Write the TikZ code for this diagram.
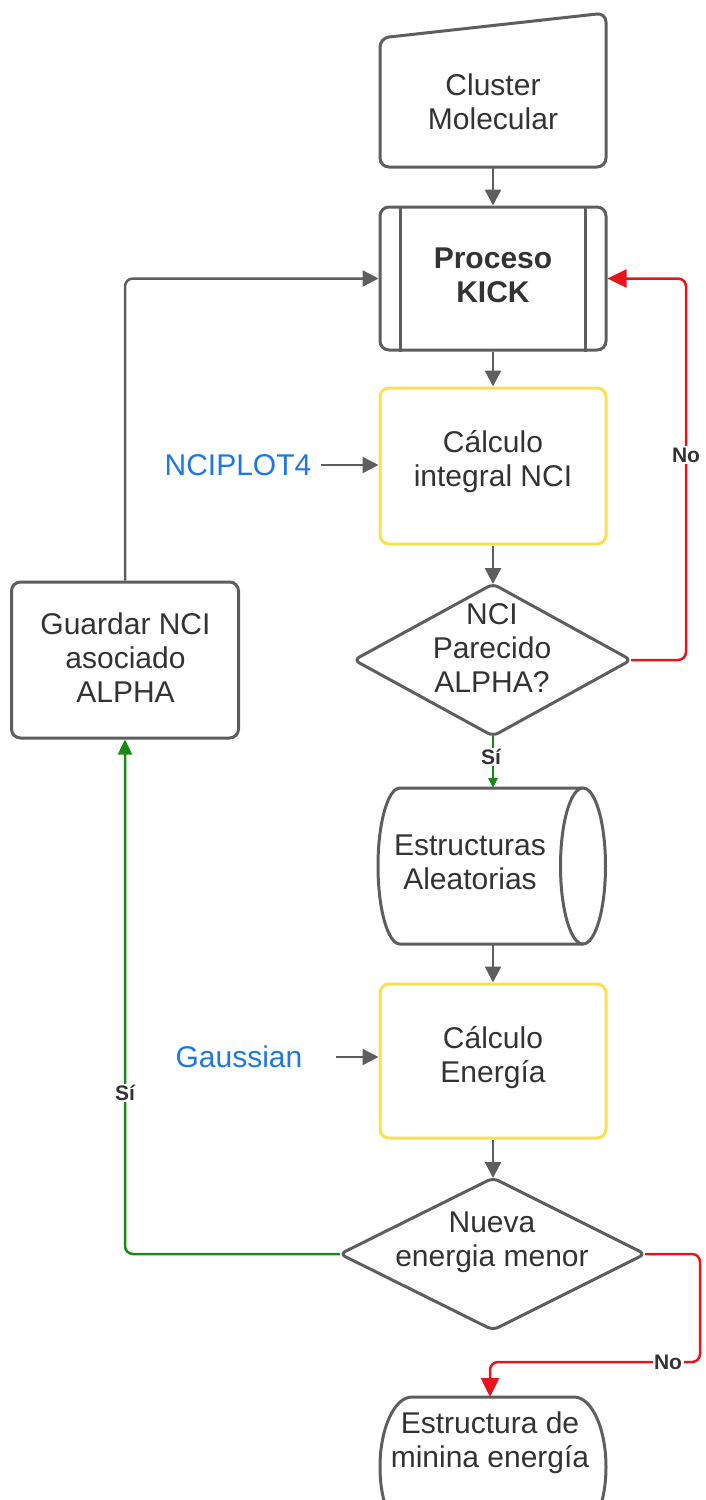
\documentclass[tikz,border=0pt]{standalone}
\usepackage{fontspec}
\setmainfont{Liberation Sans}
\usetikzlibrary{arrows.meta}
\definecolor{ln}{HTML}{5E5E5E}
\definecolor{tx}{HTML}{333333}
\definecolor{yl}{HTML}{F8E04E}
\definecolor{rd}{HTML}{E8141B}
\definecolor{gn}{HTML}{168C16}
\definecolor{bl}{HTML}{1F78E0}
\begin{document}
\begin{tikzpicture}[x=1pt,y=-1pt,
  shp/.style={draw=ln,line width=3pt,fill=white},
  rbox/.style={draw=ln,line width=3pt,rounded corners=9pt,inner sep=0pt},
  ybox/.style={draw=yl,line width=3pt,rounded corners=9pt,inner sep=0pt},
  txt/.style={text=tx,align=center,font=\fontsize{30}{34}\selectfont,inner sep=0pt},
  btxt/.style={text=tx,align=center,font=\bfseries\fontsize{30}{34}\selectfont,inner sep=0pt},
  btx/.style={text=bl,font=\fontsize{30}{34}\selectfont,inner sep=0pt},
  lbl/.style={text=tx,font=\bfseries\fontsize{21}{24}\selectfont,fill=white,inner sep=1.5pt},
  con/.style={color=ln,line width=2.5pt,-{Triangle[width=16pt,length=16pt]},rounded corners=8pt},
  rcon/.style={color=rd,line width=2.5pt,-{Triangle[width=18pt,length=19pt]},rounded corners=8pt},
  gcon/.style={color=gn,line width=2.5pt,-{Triangle[width=14pt,length=15pt]},rounded corners=8pt}]
\useasboundingbox (0,0) rectangle (706,1500);

% Cluster Molecular (manual input)
\draw[shp,rounded corners=9pt] (380,38) -- (606,13) -- (606,167) -- (380,167) -- cycle;
\node[txt] (cmt) at (493,102) {Cluster\\Molecular};
\coordinate (cms) at (493,167);

% Proceso KICK
\node[rbox,minimum width=226pt,minimum height=143pt] (kick) at (493,278.5) {};
\draw[ln,line width=3pt] ([xshift=22pt]kick.north west) -- ([xshift=22pt]kick.south west);
\draw[ln,line width=3pt] ([xshift=-22pt]kick.north east) -- ([xshift=-22pt]kick.south east);
\node[btxt] (kickt) at (493,275) {Proceso\\KICK};

% Calculo integral NCI
\node[ybox,minimum width=226pt,minimum height=156pt] (nci) at (493,466) {};
\node[txt] (ncit) at (493,462) {Cálculo\\integral NCI};

% Diamond 1
\coordinate (d1n) at (493,584);
\coordinate (d1e) at (631,660);
\coordinate (d1s) at (493,736);
\coordinate (d1w) at (354,660);
\draw[shp,rounded corners=6pt] (d1n) -- (d1e) -- (d1s) -- (d1w) -- cycle;
\node[txt] (d1t) at (492,648) {NCI\\Parecido\\ALPHA?};

% Cylinder
\coordinate (cyn) at (493,788);
\coordinate (cys) at (493,944);
\fill[white] (583,944) -- (400,944)
  arc[start angle=270,end angle=90,x radius=22pt,y radius=78pt] -- (583,788) -- cycle;
\draw[ln,line width=3pt] (583,944) -- (400,944)
  arc[start angle=270,end angle=90,x radius=22pt,y radius=78pt] -- (583,788);
\draw[ln,line width=3pt] (583,866) ellipse [x radius=22.5pt,y radius=78pt];
\node[txt] (cyt) at (470,862) {Estructuras\\Aleatorias};

% Calculo Energia
\node[ybox,minimum width=226pt,minimum height=154pt] (en) at (493,1061) {};
\node[txt] (ent) at (493,1058) {Cálculo\\Energía};

% Diamond 2
\coordinate (d2n) at (493,1178);
\coordinate (d2e) at (645,1254);
\coordinate (d2s) at (493,1330);
\coordinate (d2w) at (340,1254);
\draw[shp,rounded corners=6pt] (d2n) -- (d2e) -- (d2s) -- (d2w) -- cycle;
\node[txt] (d2t) at (492,1242) {Nueva\\energia menor};

% Terminal
\coordinate (tn) at (490,1397);
\draw[shp] (412,1397) -- (574,1397)
  arc[start angle=90,end angle=-90,x radius=32pt,y radius=70pt] -- (412,1537)
  arc[start angle=270,end angle=90,x radius=32pt,y radius=70pt] -- cycle;
\node[txt] (tt) at (490,1443) {Estructura de\\minina energía};

% Guardar
\node[rbox,minimum width=227pt,minimum height=156pt] (gu) at (125,660) {};
\node[txt] (gut) at (125.5,658) {Guardar NCI\\asociado\\ALPHA};

% Side inputs
\node[btx,outer sep=10pt] (ncip) at (238,465) {NCIPLOT4};
\node[btx,outer sep=34pt] (gau) at (239,1057) {Gaussian};

% Connectors
\draw[con] (cms) -- (kick.north);
\draw[con] (kick.south) -- (nci.north);
\draw[con] (nci.south) -- (d1n);
\draw[con] (cys) -- (en.north);
\draw[con] (en.south) -- (d2n);
\draw[con] (ncip.east) -- (ncip.east -| nci.west);
\draw[con] (gau.east) -- (gau.east -| en.west);
\draw[con] (gu.north) |- (kick.west);

\coordinate (r1) at (686,455);
\draw[rcon] (d1e) -| (r1) |- (kick.east);
\node[lbl] at (r1) {No};

\draw[gcon,-{Triangle[width=9pt,length=10pt]}] (d1s) -- (cyn);
\node[lbl] at (491,757) {Sí};

\coordinate (g1) at (125,1093);
\draw[gcon] (d2w) -| (g1) -- (gu.south);
\node[lbl] at (g1) {Sí};

\coordinate (r2) at (700,1362);
\coordinate (r2l) at (668,1362);
\draw[rcon] (d2e) -| (r2) -- (r2l) -| (tn);
\node[lbl] at (r2l) {No};
\end{tikzpicture}
\end{document}
